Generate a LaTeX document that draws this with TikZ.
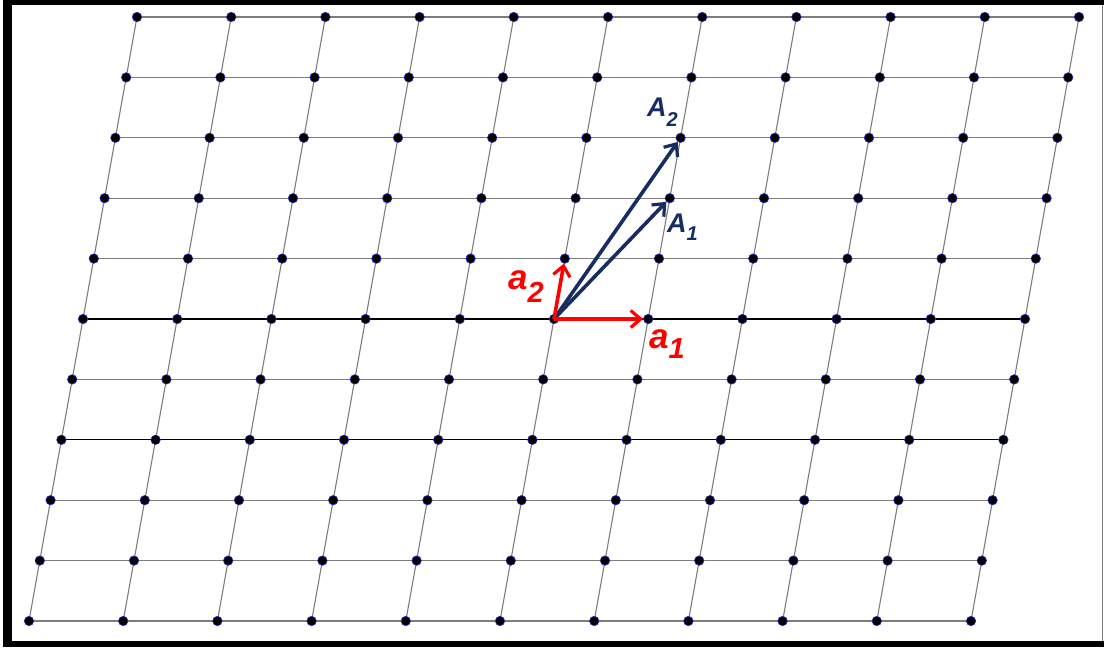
\documentclass[tikz,border=0pt]{standalone}
\usepackage{fontspec}
\setmainfont{Liberation Sans}
\usetikzlibrary{arrows.meta,backgrounds}
\definecolor{navyarrow}{RGB}{24,44,100}
\definecolor{rimblue}{RGB}{40,40,210}
\definecolor{latgray}{RGB}{125,125,125}
\begin{document}
\begin{tikzpicture}[x=1pt,y=-1pt,
  dot/.style={circle,inner sep=0pt,minimum size=9.5pt,fill=black,draw=rimblue,line width=0.6pt},
  latline/.style={draw=latgray,line width=1.1pt},
  darkline/.style={draw=black,line width=1.3pt},
  redvec/.style={draw=red,line width=3.6pt,-{Straight Barb[length=10pt,width=17pt,line width=3.2pt]}},
  navyvec/.style={draw=navyarrow,line width=3.6pt,-{Straight Barb[length=10pt,width=17pt,line width=3.2pt]}},
  redlbl/.style={text=red,inner sep=0pt,anchor=base west,font=\fontsize{35}{35}\selectfont\bfseries\itshape},
  navylbl/.style={text=navyarrow,inner sep=0pt,anchor=base west,font=\fontsize{27}{27}\selectfont\bfseries\itshape}
]
\useasboundingbox (0,0) rectangle (1104,649);
% frame
\fill[black] (3,0) rectangle (12,647);
\fill[black] (3,0) rectangle (1104,5);
\fill[black] (3,641) rectangle (1104,647);
\draw[latgray,line width=1pt] (1102,5) -- (1102,641);
% lattice points
\foreach \i in {0,...,10}{
  \foreach \j in {0,...,10}{
    \node[dot] (d-\i-\j) at ({554+94.2*(\i-5)+10.8*(\j-5)},{319-60.4*(\j-5)}) {};
  }
}
% lattice lines
\begin{scope}[on background layer]
  \foreach \j in {0,1,2,4,6,7,8,9,10}{
    \draw[latline] (d-0-\j.center) -- (d-10-\j.center);
  }
  \draw[darkline] (d-0-5.center) -- (d-10-5.center);
  \draw[darkline] (d-0-3.center) -- (d-10-3.center);
  \foreach \i in {0,...,10}{
    \draw[latline] (d-\i-0.center) -- (d-\i-10.center);
  }
\end{scope}
% vectors
\draw[navyvec] (d-5-5.center) -- (d-6-8);
\draw[navyvec] (d-5-5.center) -- (d-6-7);
\draw[redvec] (d-5-5.center) -- (d-6-5);
\draw[redvec] (d-5-5.center) -- (d-5-6);
% labels
\node[redlbl] (la1) at (649,348) {a\raisebox{-10pt}{\fontsize{29}{29}\selectfont 1}};
\node[redlbl] (la2) at (508,289) {a\raisebox{-13pt}{\fontsize{29}{29}\selectfont 2}};
\node[navylbl] (lA1) at (667,232) {A\raisebox{-8pt}{\fontsize{20}{20}\selectfont 1}};
\node[navylbl] (lA2) at (647,116) {A\raisebox{-10pt}{\fontsize{20}{20}\selectfont 2}};
\end{tikzpicture}
\end{document}
